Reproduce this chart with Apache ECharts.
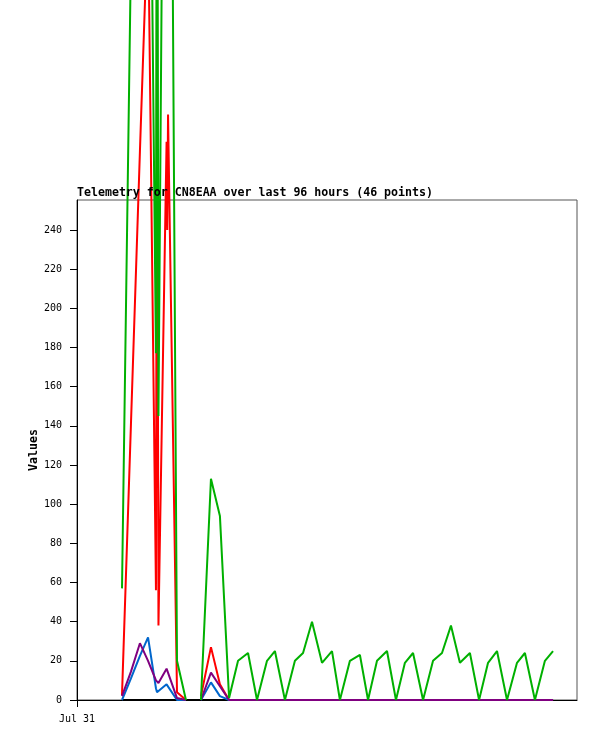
<!DOCTYPE html>
<html>
<head>
<meta charset="utf-8">
<script src="https://cdn.jsdelivr.net/npm/echarts@6/dist/echarts.min.js"></script>
<style>
html,body{margin:0;padding:0;background:#fff;}
#chart{width:597px;height:741px;}
</style>
</head>
<body>
<div id="chart"></div>
<script>
// hours since Jul 31 00:00
var xs = [2.16, 2.59, 3.02, 3.41, 3.79, 3.84, 3.91, 4.30, 4.33, 4.37, 4.80, 5.23, 5.57,
  5.95, 6.43, 6.86, 7.30, 7.73, 8.21, 8.64, 9.12, 9.50, 9.98, 10.46, 10.85, 11.28, 11.76, 12.24, 12.62,
  13.10, 13.58, 13.97, 14.40, 14.88, 15.31, 15.74, 16.13, 16.61, 17.09, 17.52, 17.95, 18.38, 18.86,
  19.30, 19.73, 20.16, 20.64, 21.12, 21.50, 21.98, 22.46, 22.85];
var green = [57, 380, 620, 570, 177, 560, 145, 700, 720, 753, 20, 0, null,
  0, 113, 94, 1, 20, 24, 0, 20, 25, 0, 20, 24, 40, 19, 25, 0,
  20, 23, 0, 20, 25, 0, 19, 24, 0, 20, 24, 38, 19, 24,
  0, 19, 25, 0, 19, 24, 0, 20, 25];
var red = [2.5, 141, 280, 403, 56, 380, 38, 285, 240, 299, 4, 0, null,
  2, 27, 8, 0, 0, 0, 0, 0, 0, 0, 0, 0, 0, 0, 0, 0,
  0, 0, 0, 0, 0, 0, 0, 0, 0, 0, 0, 0, 0, 0,
  0, 0, 0, 0, 0, 0, 0, 0, 0];
var blue = [0, 11, 22.5, 32, 6, 4, 3, 8, 8.5, 9, 0, 0, null,
  0, 9, 2, 0, 0, 0, 0, 0, 0, 0, 0, 0, 0, 0, 0, 0,
  0, 0, 0, 0, 0, 0, 0, 0, 0, 0, 0, 0, 0, 0,
  0, 0, 0, 0, 0, 0, 0, 0, 0];
var purple = [2, 14.5, 29, 20, 10, 9.5, 8.7, 16, 16.5, 17, 1, 0, null,
  0, 14, 7, 0, 0, 0, 0, 0, 0, 0, 0, 0, 0, 0, 0, 0,
  0, 0, 0, 0, 0, 0, 0, 0, 0, 0, 0, 0, 0, 0,
  0, 0, 0, 0, 0, 0, 0, 0, 0];
var black = [0, 0, 0, 0, 0, 0, 0, 0, 0, 0, 0, 0, 0,
  0, 0, 0, 0, 0, 0, 0, 0, 0, 0, 0, 0, 0, 0, 0, 0,
  0, 0, 0, 0, 0, 0, 0, 0, 0, 0, 0, 0, 0, 0,
  0, 0, 0, 0, 0, 0, 0, 0, 0];
var yTicks = [0, 20, 40, 60, 80, 100, 120, 140, 160, 180, 200, 220, 240];
var xTicks = [0];
var xTickLabels = ['Jul 31'];
var titleText = 'Telemetry for CN8EAA over last 96 hours (46 points)';

function pairs(vals) {
  return xs.map(function (x, i) { return [x, vals[i]]; });
}
var MONO = 'DejaVu Sans Mono';
function mk(name, vals, color) {
  return {
    name: name, type: 'line', data: pairs(vals), symbol: 'none', clip: false,
    connectNulls: false, lineStyle: { color: color, width: 2 }, itemStyle: { color: color },
    silent: true
  };
}
var chart = echarts.init(document.getElementById('chart'), null, { renderer: 'canvas' });
chart.setOption({
  animation: false,
  backgroundColor: '#ffffff',
  title: {
    text: titleText, left: 77, top: 187, padding: 0,
    textStyle: { fontFamily: MONO, fontWeight: 'bold', fontSize: 11.6, color: '#000' }
  },
  grid: { left: 77, top: 200, right: 20, bottom: 41, show: true, borderColor: '#555', borderWidth: 1 },
  xAxis: {
    type: 'value', min: 0, max: 24,
    axisLine: { show: true, lineStyle: { color: '#000', width: 1 } },
    axisTick: { show: true, length: 7, inside: false, customValues: xTicks, lineStyle: { color: '#000' } },
    axisLabel: {
      customValues: xTicks, margin: 14, fontFamily: MONO, fontSize: 10, color: '#000',
      formatter: function (v) { var i = xTicks.indexOf(v); return i >= 0 ? xTickLabels[i] : ''; }
    },
    splitLine: { show: false }
  },
  yAxis: {
    type: 'value', min: 0, max: 255.3,
    name: 'Values', nameLocation: 'middle', nameRotate: 90, nameGap: 37, nameMoveOverlap: false,
    nameTextStyle: { fontFamily: MONO, fontWeight: 'bold', fontSize: 11.6, color: '#000' },
    axisLine: { show: true, lineStyle: { color: '#000', width: 1 } },
    axisTick: { show: true, length: 7, customValues: yTicks, lineStyle: { color: '#000' } },
    axisLabel: { customValues: yTicks, margin: 15, fontFamily: MONO, fontSize: 10, color: '#000' },
    splitLine: { show: false }
  },
  series: [
    mk('black', black, '#000000'),
    mk('red', red, '#ff0000'),
    mk('blue', blue, '#0066cc'),
    mk('purple', purple, '#800080'),
    mk('green', green, '#00b000')
  ]
});
</script>
</body>
</html>
